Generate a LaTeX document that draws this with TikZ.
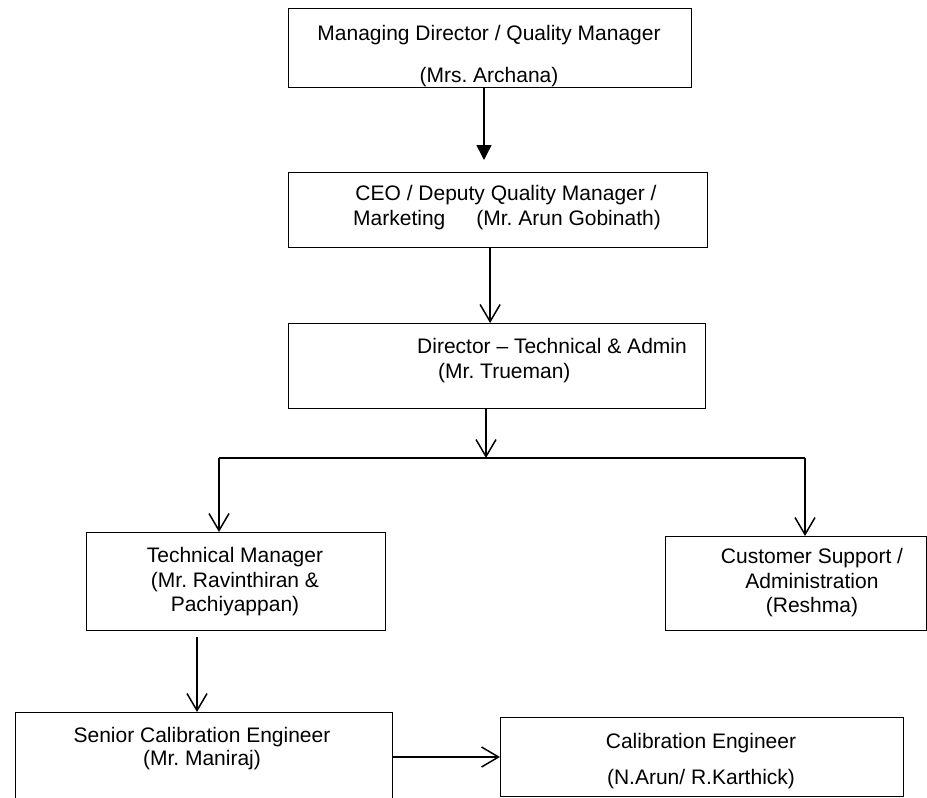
\documentclass[tikz,border=0pt]{standalone}
\usepackage{fontspec}
\setmainfont{Liberation Sans}
\usetikzlibrary{arrows.meta,positioning}
\frenchspacing

\tikzset{
  orgbox/.style={draw,line width=1.2pt,inner sep=0pt,anchor=north west},
  txt/.style={anchor=base,inner sep=0pt,font=\fontsize{21}{25}\selectfont},
  link/.style={line width=1.5pt,-{Straight Barb[length=17pt,width=20pt,line width=1.5pt]}},
  leadlink/.style={line width=1.5pt,-{Triangle[length=15pt,width=15pt]}},
  bar/.style={line width=1.5pt}
}

\begin{document}
\begin{tikzpicture}[x=1pt,y=-1pt]
\clip (0,0) rectangle (927,798);
\fill[white] (0,0) rectangle (927,798);

% boxes
\node[orgbox,minimum width=403pt,minimum height=79pt] (md) at (288,8) {};
\node[orgbox,minimum width=419pt,minimum height=75pt] (ceo) at (288,172) {};
\node[orgbox,minimum width=417pt,minimum height=85pt] (dir) at (288,323) {};
\node[orgbox,minimum width=299pt,minimum height=98pt] (tm) at (86,532) {};
\node[orgbox,minimum width=261pt,minimum height=94pt] (cs) at (665,536) {};
\node[orgbox,minimum width=377pt,minimum height=110pt] (sce) at (15,712) {};
\node[orgbox,minimum width=403pt,minimum height=79pt] (ce) at (500,717) {};

% texts
\node[txt] (mdA) at (489,40) {Managing Director / Quality Manager};
\node[txt] (mdB) at (489,82) {(Mrs. Archana)};
\node[txt] (ceoA) at (506,200) {CEO / Deputy Quality Manager /};
\node[txt] (ceoB) at (507,225) {Marketing\hspace{31pt}(Mr. Arun Gobinath)};
\node[txt,anchor=base west] (dirA) at (417,353) {Director -- Technical \& Admin};
\node[txt,anchor=base west] (dirB) at (438,378) {(Mr. Trueman)};
\node[txt] (tmA) at (235,562) {Technical Manager};
\node[txt] (tmB) at (235,587) {(Mr. Ravinthiran \&};
\node[txt] (tmC) at (235,611) {Pachiyappan)};
\node[txt] (csA) at (812,563) {Customer Support /};
\node[txt] (csB) at (812,588) {Administration};
\node[txt] (csC) at (812,612) {(Reshma)};
\node[txt] (sceA) at (202,742) {Senior Calibration Engineer};
\node[txt] (sceB) at (202,765) {(Mr. Maniraj)};
\node[txt] (ceA) at (701,748) {Calibration Engineer};
\node[txt] (ceB) at (701,784) {(N.Arun/ R.Karthick)};

% connectors
\coordinate (mdTip) at (484,160);
\coordinate (split) at (486,458);
\coordinate (busL) at (219,458);
\coordinate (busR) at (805,458);
\coordinate (tmDrop) at (197,637);
\coordinate (handoff) at (392,757);

\draw[leadlink] (md.south -| mdTip) -- (mdTip);
\draw[link] ([xshift=-8pt]ceo.south) -- ([xshift=-8pt]ceo.south |- dir.north);
\draw[link] (dir.south -| split) -- (split);
\draw[bar] (busL) -- (busR);
\draw[link] (busL) -- (busL |- tm.north);
\draw[link] (busR) -- (busR |- cs.north);
\draw[link] (tmDrop) -- (tmDrop |- sce.north);
\draw[link] (sce.east |- handoff) -- (handoff -| ce.west);
\end{tikzpicture}
\end{document}
